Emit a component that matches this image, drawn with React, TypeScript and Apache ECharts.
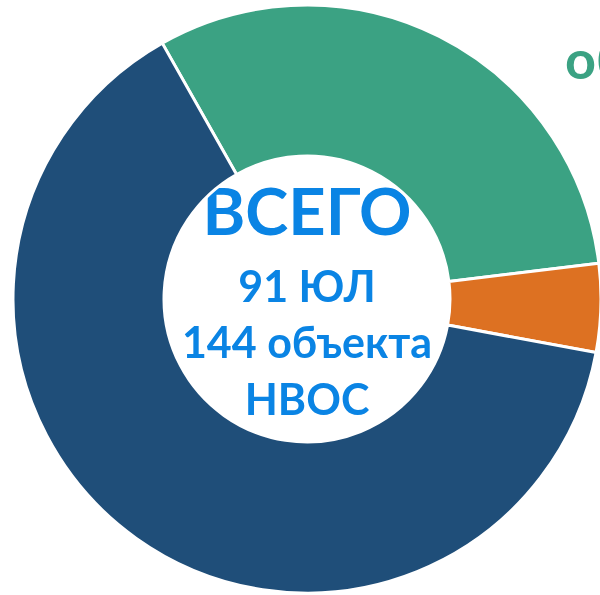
import React, { useEffect, useRef } from "react";
import * as echarts from "echarts";

const categories = ["Зелёный", "Оранжевый", "Синий"];
const values = [45, 7, 92];
const colors = ["#3ba283", "#dd7122", "#1f4e79"];
const centerLines = ["ВСЕГО", "91 ЮЛ", "144 объекта", "НВОС"];
const sideLabel = "объекты";

export default function App() {
  const ref = useRef<HTMLDivElement>(null);
  useEffect(() => {
    const chart = echarts.init(ref.current!, null, { renderer: "svg" });
    const font = "Lato, 'Open Sans', sans-serif";
    const textColor = "#0a84e4";
    const line = (text: string, y: number, size: number) => ({
      type: "text",
      x: 307,
      y,
      style: {
        text,
        font: `bold ${size}px ${font}`,
        fill: textColor,
        align: "center",
        verticalAlign: "middle",
      },
    });
    chart.setOption({
      animation: false,
      series: [
        {
          type: "pie",
          center: [307, 299],
          radius: [143, 294],
          startAngle: 119.5,
          clockwise: true,
          label: { show: false },
          labelLine: { show: false },
          itemStyle: { borderColor: "#ffffff", borderWidth: 3 },
          emphasis: { disabled: true },
          data: categories.map((c, i) => ({
            name: c,
            value: values[i],
            itemStyle: { color: colors[i] },
          })),
        },
      ],
      graphic: [
        line(centerLines[0], 210, 65),
        line(centerLines[1], 285, 43),
        line(centerLines[2], 341, 43),
        line(centerLines[3], 398, 43),
        {
          type: "text",
          x: 565,
          y: 58,
          style: {
            text: sideLabel,
            font: `bold 54px ${font}`,
            fill: colors[0],
            align: "left",
            verticalAlign: "middle",
          },
        },
      ],
    });
    return () => chart.dispose();
  }, []);
  return (
    <div
      ref={ref}
      style={{ position: "fixed", left: 0, top: 0, width: 600, height: 595 }}
    />
  );
}
